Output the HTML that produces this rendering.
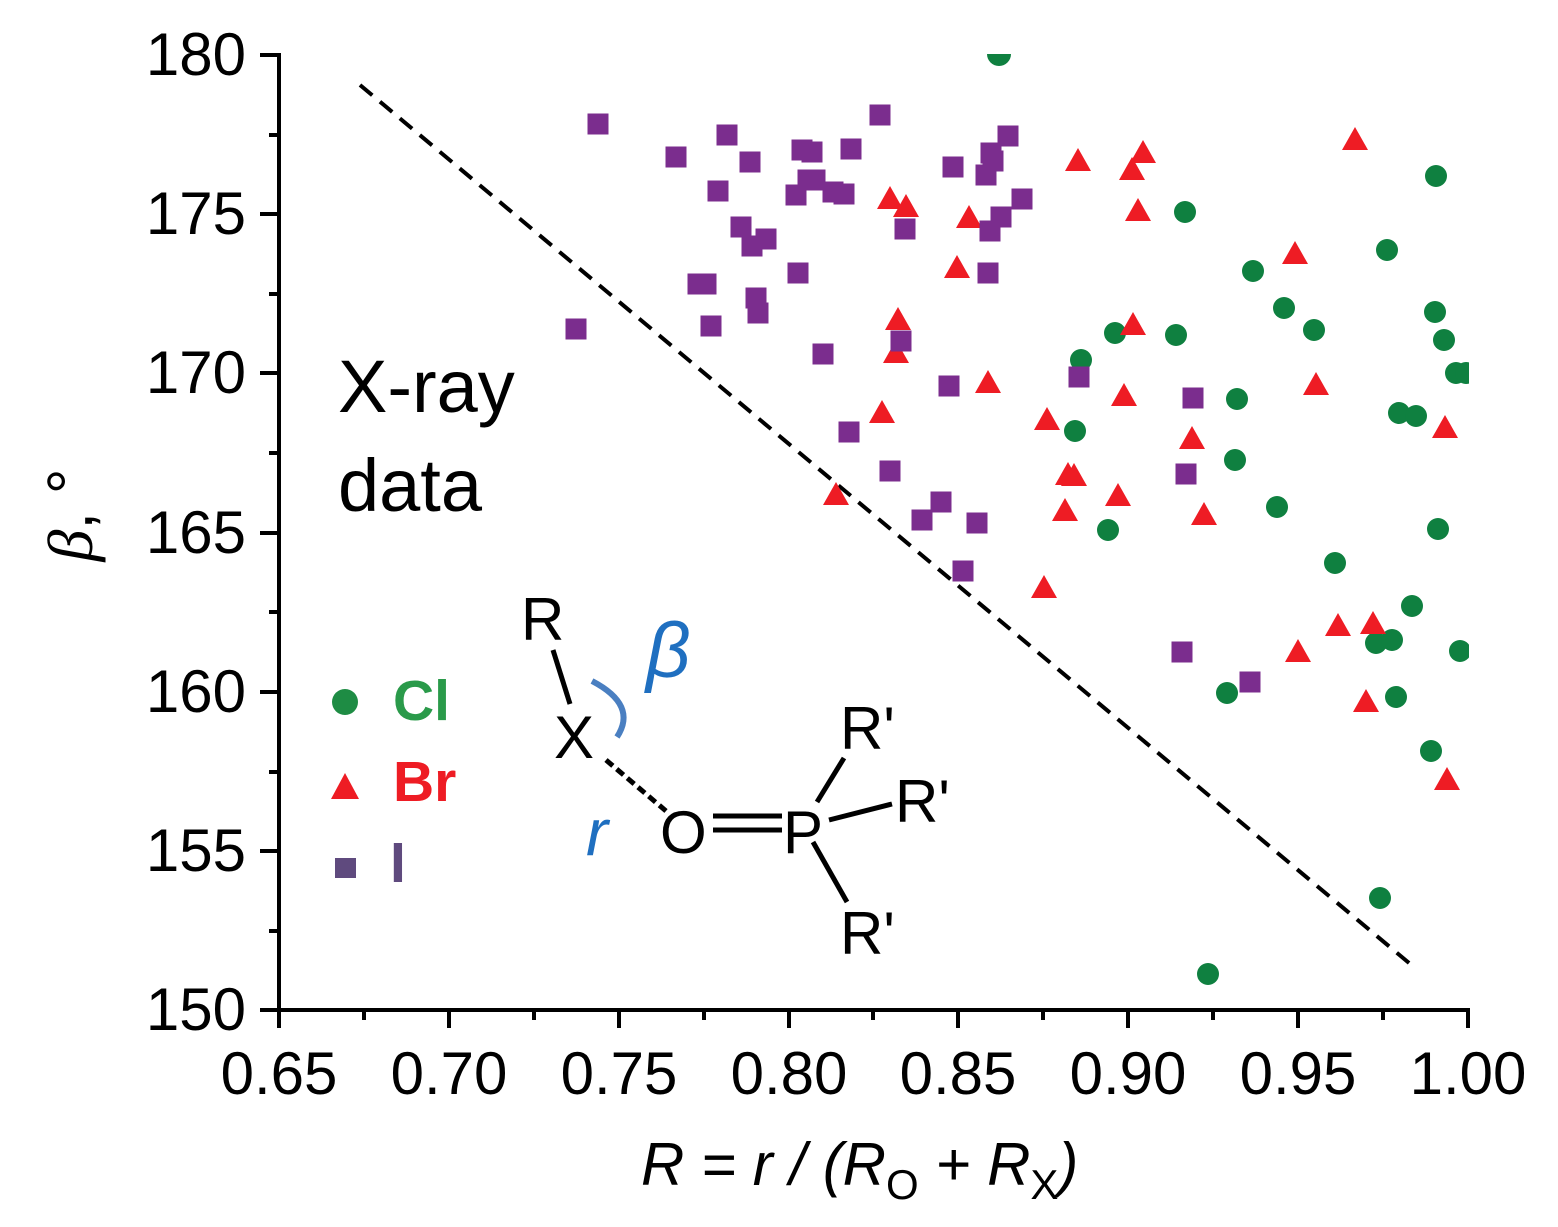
<!DOCTYPE html>
<html><head><meta charset="utf-8"><style>body{margin:0;background:#fff}svg{display:block}text{font-family:"Liberation Sans",sans-serif}</style></head><body>
<svg width="1558" height="1227" viewBox="0 0 1558 1227" xmlns="http://www.w3.org/2000/svg">
<defs><clipPath id="pa"><rect x="279" y="54" width="1190" height="956"/></clipPath></defs>
<g stroke="#000" stroke-width="4" fill="none">
<line x1="279" y1="53" x2="279" y2="1012"/>
<line x1="277" y1="1010" x2="1470" y2="1010"/>
<path d="M279 1010v18M449 1010v18M619 1010v18M789 1010v18M958 1010v18M1128 1010v18M1298 1010v18M1468 1010v18"/>
<path d="M364 1010v10M534 1010v10M704 1010v10M873 1010v10M1043 1010v10M1213 1010v10M1383 1010v10"/>
<path d="M279 55h-19M279 214h-19M279 373h-19M279 533h-19M279 692h-19M279 851h-19M279 1010h-19"/>
<path d="M279 135h-10M279 294h-10M279 453h-10M279 612h-10M279 772h-10M279 931h-10"/>
<line x1="360" y1="85" x2="1415" y2="968" stroke-dasharray="16,10"/>
</g>
<g font-size="60" text-anchor="middle">
<text x="279" y="1094">0.65</text><text x="449" y="1094">0.70</text><text x="619" y="1094">0.75</text><text x="789" y="1094">0.80</text><text x="958" y="1094">0.85</text><text x="1128" y="1094">0.90</text><text x="1298" y="1094">0.95</text><text x="1468" y="1094">1.00</text>
</g>
<g font-size="60" text-anchor="end">
<text x="246" y="75">180</text><text x="246" y="234">175</text><text x="246" y="393">170</text><text x="246" y="553">165</text><text x="246" y="712">160</text><text x="246" y="871">155</text><text x="246" y="1030">150</text>
</g>
<text x="641" y="1185" font-size="60" font-style="italic">R = r / (R<tspan font-size="42" dy="14" font-style="normal">O</tspan><tspan dy="-14"> + R</tspan><tspan font-size="42" dy="14" font-style="normal">X</tspan><tspan dy="-14">)</tspan></text>
<text transform="translate(92,515) rotate(-90)" font-size="64" text-anchor="middle"><tspan font-style="italic" font-family="Liberation Serif">β</tspan>, °</text>
<text x="338" y="412" font-size="74">X-ray</text>
<text x="338" y="511" font-size="74">data</text>
<circle cx="345" cy="702" r="13" fill="#1e8c44"/>
<text x="393" y="720" font-size="57" font-weight="bold" fill="#2a9a4a">Cl</text>
<polygon points="345,773 359,799 331,799" fill="#ee1c24"/>
<text x="393" y="801" font-size="57" font-weight="bold" fill="#ee1c24">Br</text>
<rect x="335" y="858" width="21" height="20" fill="#5f4a7e"/>
<text x="390" y="882" font-size="57" font-weight="bold" fill="#5f4a7e">I</text>
<g font-size="60">
<text x="521" y="640">R</text><text x="554" y="758">X</text><text x="660" y="853">O</text><text x="783" y="853">P</text>
<text x="840" y="749">R'</text><text x="895" y="822">R'</text><text x="840" y="954">R'</text>
</g>
<g stroke="#000" stroke-width="5" fill="none">
<line x1="553" y1="650" x2="570" y2="704"/>
<line x1="606" y1="760" x2="666" y2="811" stroke-dasharray="9,5"/>
<line x1="713" y1="816" x2="782" y2="816"/><line x1="713" y1="830" x2="782" y2="830"/>
<line x1="817" y1="802" x2="844" y2="758"/>
<line x1="829" y1="820" x2="892" y2="804"/>
<line x1="813" y1="842" x2="847" y2="902"/>
</g>
<path d="M592 681 Q638 705 617 737" stroke="#4a7fc1" stroke-width="6" fill="none"/>
<text x="646" y="677" font-size="78" font-style="italic" font-family="Liberation Serif" fill="#1f6fc0">β</text>
<text x="586" y="855" font-size="66" font-style="italic" font-family="Liberation Serif" fill="#1f6fc0">r</text>
<g clip-path="url(#pa)">
<g fill="#0f8040">
<circle cx="999" cy="54" r="12"/><circle cx="1185" cy="212" r="11"/><circle cx="1436" cy="176" r="11"/><circle cx="1387" cy="250" r="11"/><circle cx="1253" cy="271" r="11"/><circle cx="1284" cy="308" r="11"/><circle cx="1314" cy="330" r="11"/><circle cx="1435" cy="312" r="11"/><circle cx="1444" cy="340" r="11"/><circle cx="1115" cy="333" r="11"/><circle cx="1176" cy="335" r="11"/><circle cx="1081" cy="360" r="11"/><circle cx="1456" cy="373" r="11"/><circle cx="1466" cy="373" r="11"/><circle cx="1237" cy="399" r="11"/><circle cx="1399" cy="413" r="11"/><circle cx="1416" cy="416" r="11"/><circle cx="1075" cy="431" r="11"/><circle cx="1235" cy="460" r="11"/><circle cx="1277" cy="507" r="11"/><circle cx="1108" cy="530" r="11"/><circle cx="1438" cy="529" r="11"/><circle cx="1335" cy="563" r="11"/><circle cx="1412" cy="606" r="11"/><circle cx="1376" cy="643" r="11"/><circle cx="1392" cy="640" r="11"/><circle cx="1460" cy="651" r="11"/><circle cx="1227" cy="693" r="11"/><circle cx="1396" cy="697" r="11"/><circle cx="1431" cy="751" r="11"/><circle cx="1380" cy="898" r="11"/><circle cx="1208" cy="974" r="11"/>
</g>
<g fill="#ee1c24" id="tri"></g>
<g fill="#7b2d8e" id="sq"></g>
</g>
<script>
var t=[[1355,140],[1143,153],[1078,161],[1132,170],[890,199],[906,207],[969,218],[1138,211],[1295,254],[957,268],[898,320],[1133,325],[896,353],[1316,385],[988,383],[1124,396],[1047,420],[882,413],[1192,439],[1445,428],[1068,475],[1074,476],[1065,511],[1118,496],[1204,515],[836,495],[1044,588],[1338,626],[1373,624],[1298,652],[1366,702],[1447,780]];
var s=[[598,124],[676,157],[727,135],[750,162],[718,191],[741,227],[766,239],[752,246],[698,284],[706,284],[798,273],[756,298],[758,313],[711,326],[576,329],[796,195],[802,150],[812,152],[815,180],[833,192],[844,194],[851,149],[880,115],[953,167],[986,175],[991,153],[993,161],[1008,136],[1022,199],[1001,217],[990,231],[988,273],[905,229],[901,341],[823,354],[1079,377],[1193,398],[949,386],[849,432],[890,471],[941,502],[922,520],[977,523],[963,571],[1186,474],[1182,652],[1250,682],[808,180]];
var ns="http://www.w3.org/2000/svg",g=document.getElementById("tri");
t.forEach(function(p){var e=document.createElementNS(ns,"polygon");e.setAttribute("points",p[0]+","+(p[1]-13)+" "+(p[0]+13)+","+(p[1]+10)+" "+(p[0]-13)+","+(p[1]+10));g.appendChild(e);});
g=document.getElementById("sq");
s.forEach(function(p){var e=document.createElementNS(ns,"rect");e.setAttribute("x",p[0]-10.5);e.setAttribute("y",p[1]-10.5);e.setAttribute("width",21);e.setAttribute("height",21);g.appendChild(e);});
</script>
</svg>
</body></html>
